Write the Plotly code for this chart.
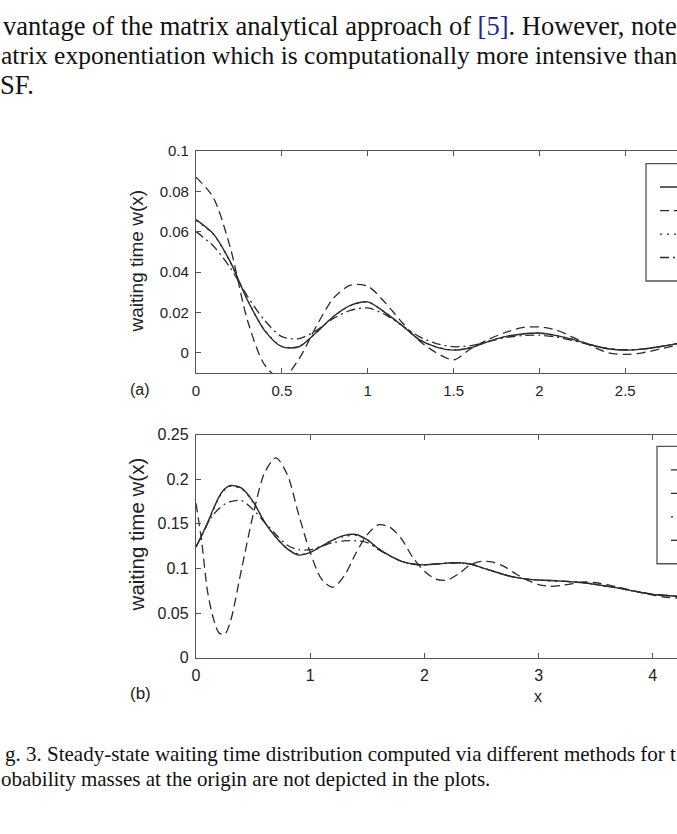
import plotly.graph_objects as go

# ---------------- data: panel (a) ----------------
xa = [0.0, 0.1, 0.2, 0.3, 0.4, 0.5, 0.6, 0.7, 0.8, 0.9, 1.0, 1.1, 1.2, 1.3, 1.4, 1.5,
      1.6, 1.7, 1.8, 1.9, 2.0, 2.1, 2.2, 2.3, 2.4, 2.5, 2.6, 2.7, 2.8, 2.9, 3.0]
a_solid = [0.066, 0.059, 0.045, 0.026, 0.011, 0.003, 0.003, 0.010, 0.018, 0.0235, 0.0252,
           0.020, 0.0135, 0.0065, 0.0028, 0.0013, 0.0025, 0.0055, 0.0080, 0.0093, 0.0098,
           0.0085, 0.0065, 0.0040, 0.0020, 0.0013, 0.0018, 0.0030, 0.0045, 0.0060, 0.0070]
a_dashed = [0.087, 0.077, 0.052, 0.016, -0.006, -0.013, -0.003, 0.013, 0.027, 0.0335, 0.033,
            0.025, 0.015, 0.006, 0.000, -0.0035, 0.002, 0.0065, 0.010, 0.0125, 0.0128,
            0.0112, 0.0075, 0.0035, 0.000, -0.0008, 0.000, 0.0018, 0.0037, 0.0055, 0.006]
a_dotted = [0.0655, 0.0588, 0.0448, 0.0262, 0.0112, 0.0032, 0.0031, 0.0101, 0.0179, 0.0234, 0.0251,
            0.0200, 0.0135, 0.0066, 0.0029, 0.0014, 0.0025, 0.0055, 0.0079, 0.0093, 0.0097,
            0.0085, 0.0065, 0.0040, 0.0021, 0.0014, 0.0018, 0.0030, 0.0045, 0.0059, 0.0069]
a_dashdot = [0.060, 0.053, 0.042, 0.028, 0.016, 0.008, 0.007, 0.011, 0.017, 0.021, 0.0222,
             0.019, 0.0135, 0.008, 0.0045, 0.003, 0.0035, 0.0055, 0.0075, 0.0085, 0.0087,
             0.0078, 0.0060, 0.0038, 0.0020, 0.0015, 0.0018, 0.0030, 0.0045, 0.0058, 0.0066]

# ---------------- data: panel (b) ----------------
xb = [0.0, 0.05, 0.1, 0.15, 0.2, 0.25, 0.3, 0.4, 0.5, 0.6, 0.7, 0.8, 0.9, 1.0, 1.1, 1.2,
      1.3, 1.4, 1.5, 1.6, 1.7, 1.8, 1.9, 2.0, 2.1, 2.2, 2.3, 2.4, 2.5, 2.6, 2.7, 2.8, 2.9,
      3.0, 3.1, 3.2, 3.3, 3.4, 3.5, 3.6, 3.7, 3.8, 3.9, 4.0, 4.1, 4.2, 4.4]
b_solid = [0.124, 0.137, 0.151, 0.166, 0.180, 0.189, 0.193, 0.190, 0.175, 0.152, 0.135, 0.122,
           0.115, 0.118, 0.125, 0.132, 0.137, 0.138, 0.132, 0.122, 0.114, 0.108, 0.105, 0.104,
           0.105, 0.106, 0.1065, 0.105, 0.101, 0.097, 0.093, 0.090, 0.088, 0.087, 0.0865,
           0.0858, 0.085, 0.084, 0.082, 0.080, 0.078, 0.0755, 0.073, 0.071, 0.070, 0.069, 0.068]
b_dashed = [0.173, 0.130, 0.075, 0.045, 0.028, 0.026, 0.040, 0.100, 0.160, 0.207, 0.224, 0.205,
            0.160, 0.118, 0.088, 0.079, 0.092, 0.117, 0.138, 0.149, 0.146, 0.133, 0.112, 0.097,
            0.088, 0.087, 0.094, 0.104, 0.108, 0.107, 0.102, 0.094, 0.087, 0.082, 0.080,
            0.081, 0.083, 0.085, 0.084, 0.082, 0.079, 0.076, 0.073, 0.070, 0.068, 0.067, 0.066]
b_dotted = [0.124, 0.137, 0.150, 0.165, 0.179, 0.188, 0.192, 0.189, 0.174, 0.152, 0.135, 0.122,
            0.116, 0.118, 0.125, 0.132, 0.136, 0.137, 0.132, 0.122, 0.114, 0.108, 0.105, 0.104,
            0.105, 0.106, 0.106, 0.105, 0.101, 0.097, 0.093, 0.090, 0.088, 0.087, 0.0863,
            0.0856, 0.085, 0.084, 0.082, 0.080, 0.078, 0.0755, 0.073, 0.071, 0.070, 0.069, 0.068]
b_dashdot = [0.124, 0.137, 0.150, 0.160, 0.167, 0.172, 0.175, 0.176, 0.166, 0.152, 0.138, 0.126,
             0.121, 0.121, 0.125, 0.129, 0.131, 0.131, 0.129, 0.121, 0.114, 0.108, 0.105, 0.104,
             0.105, 0.106, 0.106, 0.105, 0.101, 0.097, 0.093, 0.090, 0.088, 0.087, 0.0865,
             0.0858, 0.085, 0.084, 0.082, 0.080, 0.078, 0.0755, 0.073, 0.071, 0.070, 0.069, 0.068]

a_yticks = [0, 0.02, 0.04, 0.06, 0.08, 0.1]
a_xticks = [0, 0.5, 1, 1.5, 2, 2.5]
b_yticks = [0, 0.05, 0.1, 0.15, 0.2, 0.25]
b_xticks = [0, 1, 2, 3, 4]

# ---------------- layout geometry ----------------
W, H = 677, 834
L = 196
def px(x):
    return (x - L) / (W - L)
def py(y):
    return (H - y) / H

LINE = "#2b2b2b"
FRAME = "#555555"
styles = [
    ("solid", 1.4),
    ("9px,5px", 1.3),
    ("2px,5px", 1.3),
    ("9px,4px,2px,4px", 1.3),
]

fig = go.Figure()
for ys, (dash, w) in zip([a_solid, a_dashed, a_dotted, a_dashdot], styles):
    fig.add_trace(go.Scatter(x=xa, y=ys, mode="lines", xaxis="x", yaxis="y",
                             line=dict(color=LINE, width=w, dash=dash, shape="spline", smoothing=0.8),
                             showlegend=False, cliponaxis=True))
for ys, (dash, w) in zip([b_solid, b_dashed, b_dotted, b_dashdot], styles):
    fig.add_trace(go.Scatter(x=xb, y=ys, mode="lines", xaxis="x2", yaxis="y2",
                             line=dict(color=LINE, width=w, dash=dash, shape="spline", smoothing=0.8),
                             showlegend=False, cliponaxis=True))

sans = "Liberation Sans, Arial, sans-serif"
serif = "Liberation Serif, Times New Roman, serif"
tf_a = dict(family=sans, size=15, color="#222")
tf_b = dict(family=sans, size=16, color="#222")
axcommon = dict(showgrid=False, zeroline=False, showline=True, linecolor=FRAME, linewidth=1.3,
                ticks="inside", ticklen=5, tickcolor=FRAME, tickwidth=1)

fig.update_layout(
    width=W, height=H, margin=dict(l=L, r=0, t=0, b=0),
    paper_bgcolor="white", plot_bgcolor="white",
    xaxis=dict(domain=[0, 1], anchor="y", range=[0, (W - L) / 171.7], tickvals=a_xticks,
               ticktext=[str(v) for v in a_xticks], mirror="ticks", ticklabelstandoff=4,
               tickfont=tf_a, **axcommon),
    yaxis=dict(domain=[py(372), py(145)], anchor="x", range=[-0.01, 0.1], tickvals=a_yticks,
               ticktext=[("%g" % v) for v in a_yticks], mirror=False, ticklabelstandoff=3,
               tickfont=tf_a, **axcommon),
    xaxis2=dict(domain=[0, 1], anchor="y2", range=[0, (W - L) / 114.2], tickvals=b_xticks,
                ticktext=[str(v) for v in b_xticks], mirror="ticks", ticklabelstandoff=3,
                tickfont=tf_b, **axcommon),
    yaxis2=dict(domain=[py(663), py(435)], anchor="x2", range=[0, 0.25], tickvals=b_yticks,
                ticktext=[("%g" % v) for v in b_yticks], mirror=False, ticklabelstandoff=3,
                tickfont=tf_b, **axcommon),
)

shapes = []
# legend boxes (cut off at the right edge of the page)
for (bx, by0, by1, sx, ys_) in [(646, 158, 278, 660, [182, 206, 230, 254]),
                                 (657, 447, 567, 671, [471, 495, 519, 543])]:
    shapes.append(dict(type="rect", xref="paper", yref="paper", x0=px(bx), x1=px(720),
                       y0=py(by1), y1=py(by0), line=dict(color=FRAME, width=1.3), fillcolor="white",
                       layer="above"))
    for yy, (dash, w) in zip(ys_, styles):
        shapes.append(dict(type="line", xref="paper", yref="paper", x0=px(sx), x1=px(720),
                           y0=py(yy), y1=py(yy), line=dict(color=LINE, width=w, dash=dash),
                           layer="above"))
fig.update_layout(shapes=shapes)

ann = []
def text(x, y, s, size, family, xanchor="left", color="#111", angle=0):
    ann.append(dict(xref="paper", yref="paper", x=px(x), y=py(y), text=s, showarrow=False,
                    xanchor=xanchor, yanchor="middle", textangle=angle,
                    font=dict(family=family, size=size, color=color)))

text(1, 17, "vantage of the matrix analytical approach of <span style='color:#1f2a8a'>[5]</span>. However, note", 26.5, serif)
text(-1, 48, "atrix exponentiation which is computationally more intensive than", 25.5, serif)
text(-2, 78, "SF.", 26.5, serif)

text(136, 258, "waiting time w(x)", 19, sans, xanchor="center", color="#222", angle=-90)
text(136, 537, "waiting time w(x)", 20.5, sans, xanchor="center", color="#222", angle=-90)
text(140, 389, "(a)", 16, sans, xanchor="center", color="#222")
text(140, 700, "(b)", 17, sans, xanchor="center", color="#222")
text(538, 703, "x", 16, sans, xanchor="center", color="#222")

text(3, 761, "g. 3. Steady-state waiting time distribution computed via different methods for t", 21, serif)
text(-1, 787, "obability masses at the origin are not depicted in the plots.", 21, serif)
fig.update_layout(annotations=ann)

fig.write_html("out.html")
